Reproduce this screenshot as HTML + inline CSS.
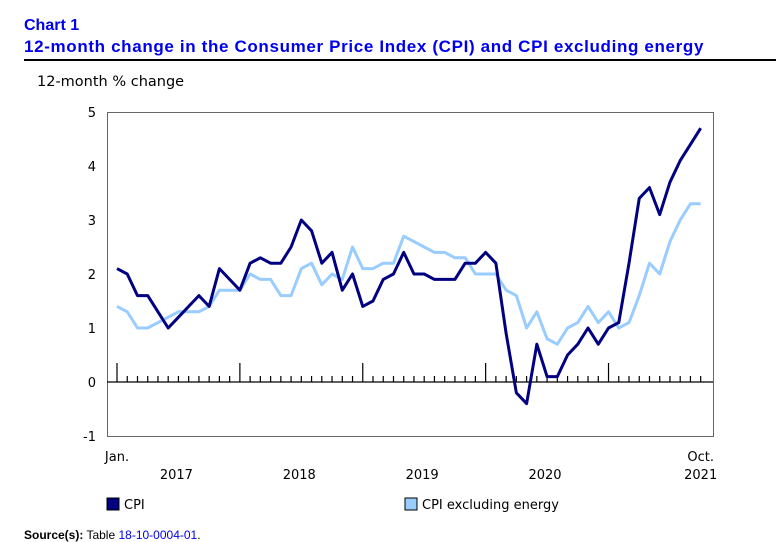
<!DOCTYPE html>
<html><head><meta charset="utf-8"><style>
body{margin:0;width:776px;height:541px;background:#fff;font-family:Verdana,"DejaVu Sans",sans-serif;overflow:hidden;position:relative}
.t{position:absolute;color:#0000ee;font-family:"Liberation Sans",Arial,sans-serif;font-weight:bold;font-size:17px;left:24px}
</style></head><body>
<div class="t" style="top:17px;font-size:16px">Chart 1</div>
<div class="t" style="top:37px;letter-spacing:0.65px">12-month change in the Consumer Price Index (CPI) and CPI excluding energy</div>
<div style="position:absolute;left:24px;top:59px;width:752px;height:2px;background:#000"></div>
<svg id="c" width="776" height="541" style="position:absolute;left:0;top:0"></svg>
<div style="position:absolute;left:24px;top:528px;font-family:'Liberation Sans',Arial,sans-serif;font-size:12px"><b>Source(s):</b> Table <span style="color:#0000ee">18-10-0004-01</span>.</div>
<script>
const yTicks=[5,4,3,2,1,0,-1];
const years=["2017","2018","2019","2020","2021"];
const cpi=[2.1,2.0,1.6,1.6,1.3,1.0,1.2,1.4,1.6,1.4,2.1,1.9,
1.7,2.2,2.3,2.2,2.2,2.5,3.0,2.8,2.2,2.4,1.7,2.0,
1.4,1.5,1.9,2.0,2.4,2.0,2.0,1.9,1.9,1.9,2.2,2.2,
2.4,2.2,0.9,-0.2,-0.4,0.7,0.1,0.1,0.5,0.7,1.0,0.7,
1.0,1.1,2.2,3.4,3.6,3.1,3.7,4.1,4.4,4.7];
const cpiExEnergy=[1.4,1.3,1.0,1.0,1.1,1.2,1.3,1.3,1.3,1.4,1.7,1.7,
1.7,2.0,1.9,1.9,1.6,1.6,2.1,2.2,1.8,2.0,1.9,2.5,
2.1,2.1,2.2,2.2,2.7,2.6,2.5,2.4,2.4,2.3,2.3,2.0,
2.0,2.0,1.7,1.6,1.0,1.3,0.8,0.7,1.0,1.1,1.4,1.1,
1.3,1.0,1.1,1.6,2.2,2.0,2.6,3.0,3.3,3.3];
const NS="http://www.w3.org/2000/svg",svg=document.getElementById('c');
const X=i=>117+i*10.24, Y=v=>382-v*54;
function mk(t,a,txt){const e=document.createElementNS(NS,t);for(const k in a)e.setAttribute(k,a[k]);if(txt!==undefined)e.textContent=txt;svg.appendChild(e);return e;}
let e=mk('rect',{x:107.5,y:112.5,width:606,height:324,fill:'none',stroke:'#666','stroke-width':1});

e=mk('text',{x:37,y:86,'font-size':14.5,fill:'#000'},'12-month % change');

yTicks.forEach(v=>{const t=mk('text',{x:96,y:Y(v)+5,'font-size':13,'text-anchor':'end'},String(v));
});
e=mk('line',{x1:107,x2:713,y1:Y(0),y2:Y(0),stroke:'#000','stroke-width':1.3});

for(let i=0;i<cpi.length;i++){const maj=i%12==0;const t=mk('line',{x1:X(i),x2:X(i),y1:Y(0),y2:Y(0)-(maj?19:6),stroke:'#000','stroke-width':1.2});
}
function line(d,c,n){const p=mk('polyline',{points:d.map((v,i)=>X(i)+','+Y(v)).join(' '),fill:'none',stroke:c,'stroke-width':3,'stroke-linejoin':'round'});
}
line(cpiExEnergy,'#99ccff','cpi-excluding-energy-line');
line(cpi,'#000080','cpi-line');
e=mk('text',{x:117,y:461,'font-size':13,'text-anchor':'middle'},'Jan.');
e=mk('text',{x:X(cpi.length-1),y:461,'font-size':13,'text-anchor':'middle'},'Oct.');
years.forEach((y,k)=>{const cx=k<4?X(k*12+5.8):X(cpi.length-1);const t=mk('text',{x:cx,y:479,'font-size':13,'text-anchor':'middle'},y);
});
[[107,'#000080','CPI','legend-cpi'],[405,'#99ccff','CPI excluding energy','legend-cpi-ex-energy']].forEach(([x,c,l,n])=>{
const r=mk('rect',{x:x,y:498,width:12,height:12,fill:c,stroke:'#000','stroke-width':1});
const t=mk('text',{x:x+17,y:509,'font-size':13},l);});
</script>
</body></html>
